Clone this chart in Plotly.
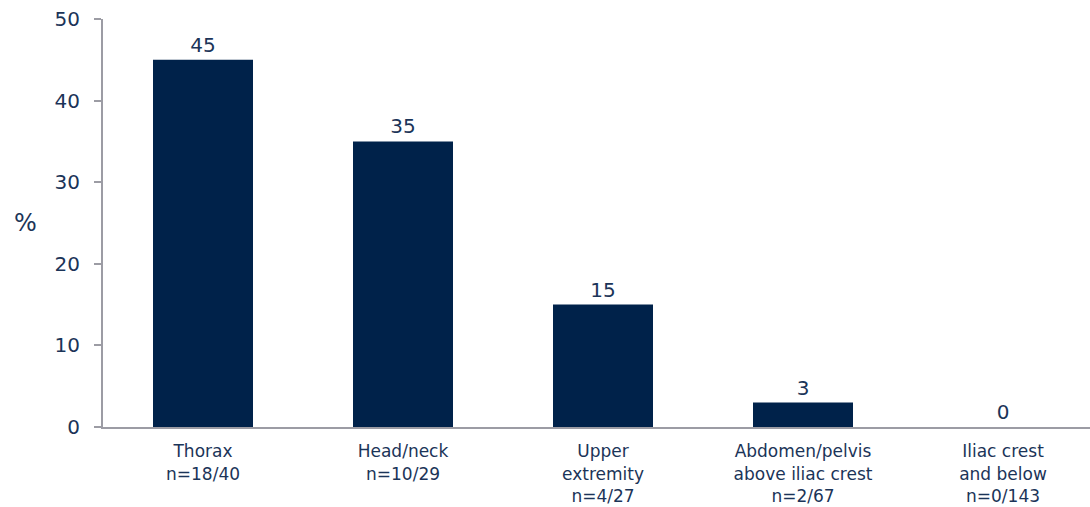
import plotly.graph_objects as go

categories = ["Thorax<br>n=18/40", "Head/neck<br>n=10/29", "Upper<br>extremity<br>n=4/27",
              "Abdomen/pelvis<br>above iliac crest<br>n=2/67", "Iliac crest<br>and below<br>n=0/143"]
values = [45, 35, 15, 3, 0]
y_ticks = [0, 10, 20, 30, 40, 50]

navy = "#00224a"
text_col = "#1b3458"
axis_col = "#9c9ca4"
font = "DejaVu Sans, Verdana, sans-serif"

fig = go.Figure(go.Bar(
    x=list(range(len(categories))), y=values, width=0.5,
    marker=dict(color=navy, line=dict(width=0)),
    text=[str(v) for v in values], textposition="outside",
    textfont=dict(size=20, color=text_col, family=font),
    cliponaxis=False,
))

fig.update_layout(
    width=1090, height=507,
    margin=dict(l=103, r=0, t=19, b=80),
    plot_bgcolor="white", paper_bgcolor="white",
    showlegend=False,
    font=dict(family=font, color=text_col),
    xaxis=dict(range=[-0.5, 4.435], tickvals=list(range(len(categories))), ticktext=categories,
               showline=True, linecolor=axis_col, linewidth=2, ticks="", showgrid=False,
               tickfont=dict(size=17, color=text_col, family=font), zeroline=False,
               ticklabelstandoff=8, automargin=False),
    yaxis=dict(range=[0, 50], tickvals=y_ticks, showline=True, linecolor=axis_col, linewidth=2,
               ticks="outside", ticklen=7, tickcolor=axis_col, tickwidth=2, showgrid=False,
               tickfont=dict(size=20, color=text_col, family=font), zeroline=False,
               ticklabelstandoff=10, automargin=False),
    annotations=[dict(text="%", x=(25 - 103) / 987, y=(427 - 223) / 408, xref="paper", yref="paper",
                      showarrow=False, xanchor="center", yanchor="middle",
                      font=dict(size=24, color=text_col, family=font))],
)

fig.write_html("out.html", config={"displayModeBar": False},
               post_script="document.body.style.margin='0px';")
